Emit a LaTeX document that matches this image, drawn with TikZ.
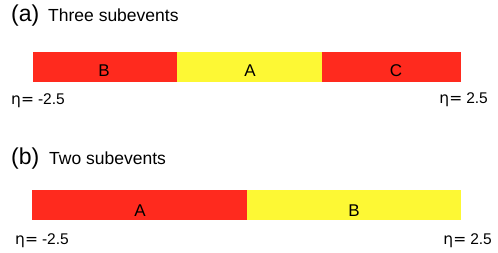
\documentclass[tikz,border=0pt]{standalone}
\usepackage{fontspec}
\setmainfont{Liberation Sans}
\newfontfamily\djv{DejaVu Sans}
\definecolor{segred}{RGB}{255,42,30}
\definecolor{segyel}{RGB}{253,248,52}
\newcommand{\etaeq}{{\djv η=}\hspace{4pt}}
\begin{document}
\begin{tikzpicture}[x=1pt,y=-1pt,
  seg/.style={draw=none,inner sep=0pt,anchor=north west},
  barlbl/.style={anchor=base,inner sep=0pt,font=\fontsize{17}{20}\selectfont},
  etalbl/.style={inner sep=0pt,font=\fontsize{15.5}{18}\selectfont},
  tag/.style={anchor=base west,inner sep=0pt,font=\fontsize{23}{27}\selectfont},
  ttl/.style={anchor=base west,inner sep=0pt,font=\fontsize{17.5}{21}\selectfont}]
\useasboundingbox[fill=white] (0,0) rectangle (498,253);
% (a)
\node[tag] (ta) at (11,22) {(a)};
\node[ttl] (tta) at (48,22) {Three subevents};
\node[seg,fill=segred,minimum width=144,minimum height=30] (aB) at (33,52) {};
\node[seg,fill=segyel,minimum width=145,minimum height=30] (aA) at (177,52) {};
\node[seg,fill=segred,minimum width=139,minimum height=30] (aC) at (322,52) {};
\node[barlbl] (laB) at (104,76.5) {B};
\node[barlbl] (laA) at (250,76.5) {A};
\node[barlbl] (laC) at (396,76.5) {C};
\node[etalbl,anchor=base west] (ea1) at (11,104.5) {\etaeq-2.5};
\node[etalbl,anchor=base east] (ea2) at (488,104) {\etaeq 2.5};
% (b)
\node[tag] (tb) at (11,165) {(b)};
\node[ttl] (ttb) at (49,165) {Two subevents};
\node[seg,fill=segred,minimum width=215,minimum height=30] (bA) at (32,190) {};
\node[seg,fill=segyel,minimum width=214,minimum height=30] (bB) at (247,190) {};
\node[barlbl] (lbA) at (140,216.5) {A};
\node[barlbl] (lbB) at (354,216.5) {B};
\node[etalbl,anchor=base west] (eb1) at (15,245) {\etaeq-2.5};
\node[etalbl,anchor=base east] (eb2) at (492,245) {\etaeq 2.5};
\end{tikzpicture}
\end{document}
